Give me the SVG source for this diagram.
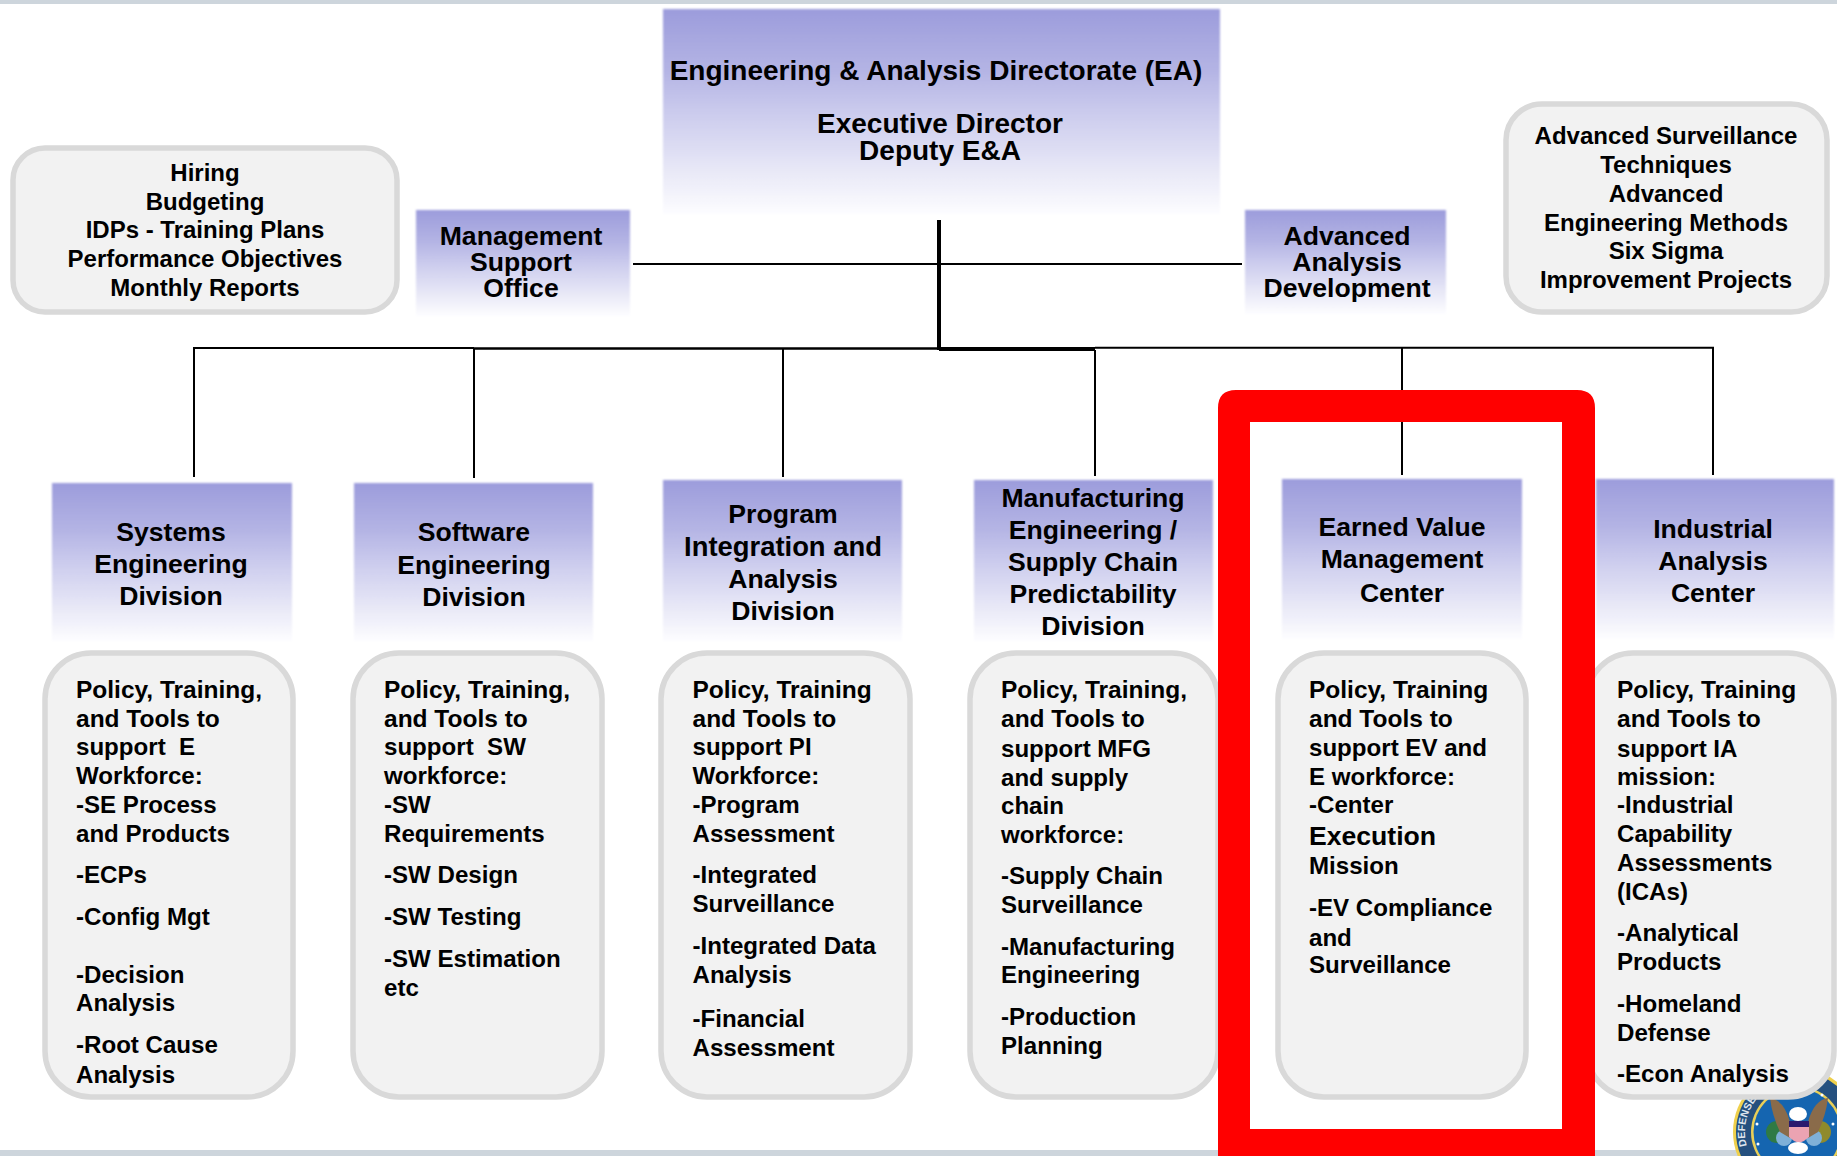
<svg xmlns="http://www.w3.org/2000/svg" width="1837" height="1156" viewBox="0 0 1837 1156">
<style>
text{font-family:"Liberation Sans",Arial,sans-serif;font-weight:bold;fill:#000;white-space:pre}
.b{font-size:24.1px}
.f{font-size:24.5px}
.h{font-size:26.6px;text-anchor:middle}
.t{font-size:28px;text-anchor:middle}
.s{font-size:24px;text-anchor:middle}
.m{font-size:26.6px;text-anchor:middle}
.g{fill:#f2f2f2;stroke:#d9d9d9;stroke-width:5.5}
.p{fill:url(#grad);filter:url(#soft)}
.c{stroke:#000;stroke-width:2;fill:none}
</style>
<defs>
<linearGradient id="grad" x1="0" y1="0" x2="0" y2="1">
<stop offset="0" stop-color="#9c9cdc"/><stop offset="0.3" stop-color="#b4b4e4"/><stop offset="0.55" stop-color="#d0d0ef"/><stop offset="0.8" stop-color="#e9e9f7"/><stop offset="1" stop-color="#fdfdff"/>
</linearGradient>
<filter id="soft" x="-2%" y="-2%" width="104%" height="104%"><feGaussianBlur stdDeviation="0.8"/></filter>
<path id="ringtext" d="M1747 1146A52 52 0 0 1 1779 1083"/>
</defs>
<rect width="1837" height="1156" fill="#fff"/>
<rect width="1837" height="4" fill="#cdd5dc"/>
<rect y="1150" width="1837" height="6" fill="#cdd5dc"/>

<g id="connectors">
<path class="c" d="M633 264H1242"/>
<path class="c" d="M194 477V348H474"/>
<path class="c" style="stroke-width:2.5" d="M474 348.5H938"/>
<path class="c" d="M1095 347.700H1713V475"/>
<path class="c" style="stroke-width:4" d="M939 349H1095"/>
<path class="c" d="M474 348V478M783 348V477M1095 350V476M1402 347V475"/>
<path class="c" style="stroke-width:4" d="M939 220V350"/>
</g>

<g id="seal">
<circle cx="1797" cy="1132" r="64" fill="#efd04c"/>
<circle cx="1797" cy="1132" r="61" fill="#25507f"/>
<text x="0" y="0" style="font-size:10.500px;fill:#dfe6ee"><textPath href="#ringtext">DEFENSE</textPath></text>
<circle cx="1797" cy="1132" r="46" fill="#e9cf58"/>
<circle cx="1797" cy="1132" r="43.500" fill="#1565b0"/>
<ellipse cx="1777" cy="1132" rx="11" ry="11" fill="#2f7a45"/>
<ellipse cx="1820" cy="1132" rx="11" ry="11" fill="#8f8a2c"/>
<ellipse cx="1784" cy="1138" rx="8" ry="8" fill="#7fb0d8"/>
<ellipse cx="1814" cy="1138" rx="8" ry="8" fill="#7fb0d8"/>
<path d="M1770 1098Q1784 1100 1790 1122V1138L1780 1132Q1772 1115 1770 1098ZM1828 1098Q1814 1100 1808 1122V1138L1818 1132Q1826 1115 1828 1098Z" fill="#8a6b4a"/>
<ellipse cx="1798" cy="1114" rx="9" ry="7" fill="#fff"/>
<rect x="1789" y="1121" width="20" height="6" fill="#2a1a6e"/>
<path d="M1789 1127H1809V1137Q1805 1141 1799 1143Q1793 1141 1789 1137Z" fill="#eba3b2"/>
<ellipse cx="1798" cy="1148" rx="10" ry="6" fill="#fff"/>
<circle cx="1757" cy="1124" r="1.500" fill="#fff"/><circle cx="1758" cy="1144" r="1.500" fill="#fff"/><circle cx="1770" cy="1095" r="1.500" fill="#fff"/><circle cx="1822" cy="1095" r="1.500" fill="#fff"/><circle cx="1833" cy="1124" r="1.500" fill="#fff"/>
</g>

<g id="node-director">
<rect class="p" x="663" y="9" width="557" height="205"/>
<text class="t" x="936" y="80">Engineering &amp; Analysis Directorate (EA)</text>
<text class="t" x="940" y="133">Executive Director</text>
<text class="t" x="940" y="160">Deputy E&amp;A</text>
</g>

<g id="node-admin">
<rect class="g" x="13" y="148" width="384" height="164" rx="32"/>
<text class="s" x="205" y="181">Hiring</text>
<text class="s" x="205" y="210">Budgeting</text>
<text class="s" x="205" y="238">IDPs - Training Plans</text>
<text class="s" x="205" y="267">Performance Objectives</text>
<text class="s" x="205" y="296">Monthly Reports</text>
</g>

<g id="node-mso">
<rect class="p" x="416" y="210" width="214" height="106"/>
<text class="m" x="521" y="245">Management</text>
<text class="m" x="521" y="271">Support</text>
<text class="m" x="521" y="297">Office</text>
</g>

<g id="node-aad">
<rect class="p" x="1245" y="210" width="201" height="104"/>
<text class="m" x="1347" y="245">Advanced</text>
<text class="m" x="1347" y="271">Analysis</text>
<text class="m" x="1347" y="297">Development</text>
</g>

<g id="node-advanced">
<rect class="g" x="1506" y="104" width="321" height="208" rx="36"/>
<text class="s" x="1666" y="144">Advanced Surveillance</text>
<text class="s" x="1666" y="173">Techniques</text>
<text class="s" x="1666" y="202">Advanced</text>
<text class="s" x="1666" y="231">Engineering Methods</text>
<text class="s" x="1666" y="259">Six Sigma</text>
<text class="s" x="1666" y="288">Improvement Projects</text>
</g>

<g id="node-se">
<rect class="p" x="52" y="483" width="240" height="158"/>
<text class="h" x="171" y="541">Systems</text>
<text class="h" x="171" y="573">Engineering</text>
<text class="h" x="171" y="605">Division</text>
<rect class="g" x="45" y="653" width="248" height="444" rx="46"/>
<text class="f" x="76" y="698">Policy, Training,</text>
<text class="f" x="76" y="727">and Tools to</text>
<text class="b" x="76" y="755">support  E</text>
<text class="b" x="76" y="784">Workforce:</text>
<text class="b" x="76" y="813">-SE Process</text>
<text class="b" x="76" y="842">and Products</text>
<text class="b" x="76" y="883">-ECPs</text>
<text class="b" x="76" y="925">-Config Mgt</text>
<text class="b" x="76" y="983">-Decision</text>
<text class="b" x="76" y="1011">Analysis</text>
<text class="b" x="76" y="1053">-Root Cause</text>
<text class="b" x="76" y="1083">Analysis</text>
</g>

<g id="node-sw">
<rect class="p" x="354" y="483" width="239" height="158"/>
<text class="h" x="474" y="541">Software</text>
<text class="h" x="474" y="574">Engineering</text>
<text class="h" x="474" y="606">Division</text>
<rect class="g" x="353" y="653" width="249" height="444" rx="46"/>
<text class="f" x="384" y="698">Policy, Training,</text>
<text class="f" x="384" y="727">and Tools to</text>
<text class="b" x="384" y="755">support  SW</text>
<text class="b" x="384" y="784">workforce:</text>
<text class="b" x="384" y="813">-SW</text>
<text class="b" x="384" y="842">Requirements</text>
<text class="b" x="384" y="883">-SW Design</text>
<text class="b" x="384" y="925">-SW Testing</text>
<text class="b" x="384" y="967">-SW Estimation</text>
<text class="b" x="384" y="996">etc</text>
</g>

<g id="node-pi">
<rect class="p" x="663" y="480" width="239" height="161"/>
<text class="h" x="783" y="523">Program</text>
<text class="h" x="783" y="556" style="font-size:27.400px">Integration and</text>
<text class="h" x="783" y="588">Analysis</text>
<text class="h" x="783" y="620">Division</text>
<rect class="g" x="661" y="653" width="249" height="444" rx="46"/>
<text class="f" x="692.500" y="698">Policy, Training</text>
<text class="f" x="692.500" y="727">and Tools to</text>
<text class="b" x="692.500" y="755">support PI</text>
<text class="b" x="692.500" y="784">Workforce:</text>
<text class="b" x="692.500" y="813">-Program</text>
<text class="b" x="692.500" y="842">Assessment</text>
<text class="b" x="692.500" y="883">-Integrated</text>
<text class="b" x="692.500" y="912">Surveillance</text>
<text class="b" x="692.500" y="954">-Integrated Data</text>
<text class="b" x="692.500" y="983">Analysis</text>
<text class="b" x="692.500" y="1027">-Financial</text>
<text class="b" x="692.500" y="1056">Assessment</text>
</g>

<g id="node-mfg">
<rect class="p" x="974" y="480" width="239" height="161"/>
<text class="h" x="1093" y="507">Manufacturing</text>
<text class="h" x="1093" y="539">Engineering /</text>
<text class="h" x="1093" y="571">Supply Chain</text>
<text class="h" x="1093" y="603">Predictability</text>
<text class="h" x="1093" y="635">Division</text>
<rect class="g" x="970" y="653" width="248" height="444" rx="46"/>
<text class="f" x="1001" y="698">Policy, Training,</text>
<text class="f" x="1001" y="727">and Tools to</text>
<text class="b" x="1001" y="757">support MFG</text>
<text class="b" x="1001" y="786">and supply</text>
<text class="b" x="1001" y="814">chain</text>
<text class="b" x="1001" y="843">workforce:</text>
<text class="b" x="1001" y="884">-Supply Chain</text>
<text class="b" x="1001" y="913">Surveillance</text>
<text class="b" x="1001" y="955">-Manufacturing</text>
<text class="b" x="1001" y="983">Engineering</text>
<text class="b" x="1001" y="1025">-Production</text>
<text class="b" x="1001" y="1054">Planning</text>
</g>

<g id="node-ev">
<rect class="p" x="1282" y="479" width="240" height="160"/>
<text class="h" x="1402" y="536">Earned Value</text>
<text class="h" x="1402" y="568">Management</text>
<text class="h" x="1402" y="602">Center</text>
<rect class="g" x="1278" y="653" width="248" height="444" rx="46"/>
<text class="f" x="1309" y="698">Policy, Training</text>
<text class="f" x="1309" y="727">and Tools to</text>
<text class="b" x="1309" y="756">support EV and</text>
<text class="b" x="1309" y="785">E workforce:</text>
<text class="b" x="1309" y="813">-Center</text>
<text class="b" x="1309" y="845" style="font-size:26.600px">Execution</text>
<text class="b" x="1309" y="874">Mission</text>
<text class="b" x="1309" y="916">-EV Compliance</text>
<text class="b" x="1309" y="946">and</text>
<text class="b" x="1309" y="973">Surveillance</text>
</g>

<g id="node-ia">
<rect class="p" x="1596" y="479" width="238" height="160"/>
<text class="h" x="1713" y="538">Industrial</text>
<text class="h" x="1713" y="570">Analysis</text>
<text class="h" x="1713" y="602">Center</text>
<rect class="g" x="1587" y="653" width="247" height="444" rx="46"/>
<text class="f" x="1617" y="698">Policy, Training</text>
<text class="f" x="1617" y="727">and Tools to</text>
<text class="b" x="1617" y="757">support IA</text>
<text class="b" x="1617" y="785">mission:</text>
<text class="b" x="1617" y="813">-Industrial</text>
<text class="b" x="1617" y="842">Capability</text>
<text class="b" x="1617" y="871">Assessments</text>
<text class="b" x="1617" y="900">(ICAs)</text>
<text class="b" x="1617" y="941">-Analytical</text>
<text class="b" x="1617" y="970">Products</text>
<text class="b" x="1617" y="1012">-Homeland</text>
<text class="b" x="1617" y="1041">Defense</text>
<text class="b" x="1617" y="1082">-Econ Analysis</text>
</g>

<path id="highlight" fill="#ff0000" fill-rule="evenodd" d="M1236 390H1577Q1595 390 1595 408V1156H1218V408Q1218 390 1236 390ZM1250 422V1129H1562V422Z"/>
</svg>
